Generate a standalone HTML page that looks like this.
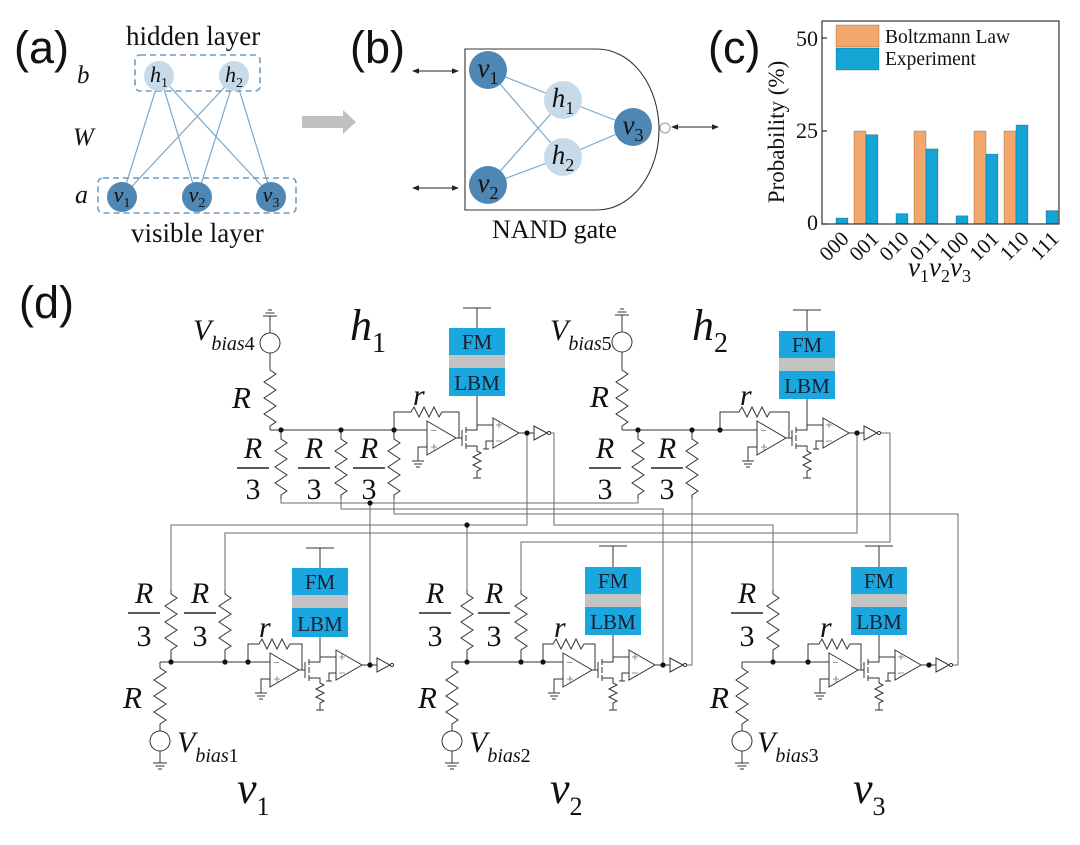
<!DOCTYPE html>
<html><head><meta charset="utf-8"><style>
html,body{margin:0;padding:0;background:#fff}
svg{display:block}
text{font-family:"Liberation Serif",serif;fill:#111}
.it{font-style:italic}
.up{font-style:normal}
.lbl{font-family:"Liberation Sans",sans-serif;font-size:45px}
</style></head><body>
<svg width="1080" height="845" viewBox="0 0 1080 845" xmlns="http://www.w3.org/2000/svg">
<defs>
<path id="zz" d="M0,0 v4 l6,4 l-12,8 l12,8 l-12,8 l12,8 l-12,8 l12,8 l-6,4 v4" fill="none"/>
<path id="zh" d="M0,0 h3 l3,-5 l5,10 l5,-10 l5,10 l5,-10 l5,10 l3,-5 h3" fill="none"/>
<path id="zs" d="M0,0 v3 l4,2 l-8,4 l8,4 l-8,4 l8,4 l-4,2 v3" fill="none"/>
<g id="chain" fill="none" stroke="#333" stroke-width="1">
 <path d="M0,-9 L29,8 L0,25 Z" fill="#fff"/>
 <path d="M4,0.5 h5 M4,17 h6 M7,14 v6" stroke="#777" stroke-width="0.8"/>
 <path d="M0,17 h-9 v14 M-15,31 h12 M-13,34 h8 M-11,37 h4"/>
 <path d="M29,8 h6 M35,0 v16 M39,-3 v6 M39,5 v6 M39,13 v6 M39,0 h11 v-5 h16 M39,16 h11 v2"/>
 <use href="#zs" x="50" y="18"/>
 <path d="M50,44 v4 M46,48 h8"/>
 <path d="M66,-12 L92,3 L66,18 Z" fill="#fff"/>
 <path d="M69,-5 h6 M72,-8 v6 M69,11 h6" stroke="#777" stroke-width="0.8"/>
 <path d="M66,11 h-7 v8 M56,19 h6"/>
 <path d="M92,3 h15"/>
 <circle cx="100" cy="3" r="2.6" fill="#111" stroke="none"/>
 <path d="M107,-4 L120,3 L107,10 Z" fill="#fff"/>
 <circle cx="122" cy="3" r="1.6" fill="#fff"/>
</g>
</defs>

<!-- ============ (a) ============ -->
<text class="lbl" x="14" y="63">(a)</text>
<text x="126" y="45" font-size="27">hidden layer</text>
<text x="77" y="83" font-size="25" class="it">b</text>
<text x="73" y="145" font-size="25" class="it">W</text>
<text x="75" y="203" font-size="26" class="it">a</text>
<text x="131" y="242" font-size="27">visible layer</text>
<g stroke="#7ba8c8" stroke-width="1.2">
 <path d="M160,76 L122,197 M160,76 L197,197 M160,76 L272,197 M235,76 L122,197 M235,76 L197,197 M235,76 L272,197"/>
</g>
<rect x="135" y="55" width="125" height="36" rx="5" fill="none" stroke="#6c9cc2" stroke-width="1.6" stroke-dasharray="6,4"/>
<rect x="98" y="178" width="198" height="35" rx="5" fill="none" stroke="#6c9cc2" stroke-width="1.6" stroke-dasharray="6,4"/>
<circle cx="159" cy="76" r="15" fill="#c6dae9"/>
<circle cx="234" cy="76" r="15" fill="#c6dae9"/>
<circle cx="122" cy="197" r="15" fill="#4f87b4"/>
<circle cx="197" cy="197" r="15" fill="#4f87b4"/>
<circle cx="271" cy="197" r="15" fill="#4f87b4"/>
<g font-size="22" text-anchor="middle" class="it">
 <text x="159" y="82">h<tspan class="up" font-size="14" dy="5">1</tspan></text>
 <text x="234" y="82">h<tspan class="up" font-size="14" dy="5">2</tspan></text>
 <text x="122" y="202">v<tspan class="up" font-size="14" dy="5">1</tspan></text>
 <text x="197" y="202">v<tspan class="up" font-size="14" dy="5">2</tspan></text>
 <text x="271" y="202">v<tspan class="up" font-size="14" dy="5">3</tspan></text>
</g>
<polygon points="302,116 343,116 343,110 356,122 343,134 343,128 302,128" fill="#c0c0c0"/>

<!-- ============ (b) ============ -->
<text class="lbl" x="350" y="63">(b)</text>
<path d="M465,49 H597 A62,80.5 0 0 1 597,210 H465 Z" fill="#fff" stroke="#333" stroke-width="1.1"/>
<g stroke="#7ba8c8" stroke-width="1.2">
 <path d="M488,70 L563,100 M488,70 L563,157 M488,185 L563,100 M488,185 L563,157 M563,100 L633,127 M563,157 L633,127"/>
</g>
<circle cx="488" cy="70" r="19" fill="#4f87b4"/>
<circle cx="488" cy="185" r="19" fill="#4f87b4"/>
<circle cx="563" cy="100" r="19" fill="#c6dae9"/>
<circle cx="563" cy="157" r="19" fill="#c6dae9"/>
<circle cx="633" cy="127" r="19" fill="#4f87b4"/>
<g font-size="27" text-anchor="middle" class="it">
 <text x="488" y="77">v<tspan class="up" font-size="18" dy="7">1</tspan></text>
 <text x="488" y="192">v<tspan class="up" font-size="18" dy="7">2</tspan></text>
 <text x="563" y="107">h<tspan class="up" font-size="18" dy="7">1</tspan></text>
 <text x="563" y="164">h<tspan class="up" font-size="18" dy="7">2</tspan></text>
 <text x="633" y="134">v<tspan class="up" font-size="18" dy="7">3</tspan></text>
</g>
<circle cx="665" cy="128" r="5" fill="#fff" stroke="#999" stroke-width="1"/>
<g stroke="#222" stroke-width="1">
 <path d="M417,71 H454 M417,188 H454 M676,127 H714"/>
</g>
<g fill="#222">
 <polygon points="412,71 419,68.3 419,73.7"/><polygon points="459,71 452,68.3 452,73.7"/>
 <polygon points="412,188 419,185.3 419,190.7"/><polygon points="459,188 452,185.3 452,190.7"/>
 <polygon points="671,127 678,124.3 678,129.7"/><polygon points="719,127 712,124.3 712,129.7"/>
</g>
<text x="492" y="238" font-size="26">NAND gate</text>

<!-- ============ (c) ============ -->
<text class="lbl" x="708" y="63">(c)</text>
<g stroke="rgba(0,0,0,0.35)" stroke-width="0.6">
 <rect x="854" y="131" width="12" height="93" fill="#f2a76c"/>
 <rect x="914" y="131" width="12" height="93" fill="#f2a76c"/>
 <rect x="974" y="131" width="12" height="93" fill="#f2a76c"/>
 <rect x="1004" y="131" width="12" height="93" fill="#f2a76c"/>
 <rect x="836" y="218" width="12" height="6" fill="#12a5d6"/>
 <rect x="866" y="134.7" width="12" height="89.3" fill="#12a5d6"/>
 <rect x="896" y="213.6" width="12" height="10.4" fill="#12a5d6"/>
 <rect x="926" y="148.9" width="12" height="75.1" fill="#12a5d6"/>
 <rect x="956" y="215.8" width="12" height="8.2" fill="#12a5d6"/>
 <rect x="986" y="154.1" width="12" height="69.9" fill="#12a5d6"/>
 <rect x="1016" y="125" width="12" height="99" fill="#12a5d6"/>
 <rect x="1046" y="210.6" width="12" height="13.4" fill="#12a5d6"/>
 <rect x="836" y="25" width="43" height="22" fill="#f2a76c"/>
 <rect x="836" y="48" width="43" height="22" fill="#12a5d6"/>
</g>
<rect x="822" y="21" width="237" height="203" fill="none" stroke="#333" stroke-width="1.2"/>
<path d="M822,38 h5 M822,131 h5 M822,224 h5" stroke="#333" stroke-width="1.2"/>
<text x="885" y="43" font-size="19.5">Boltzmann Law</text>
<text x="885" y="65" font-size="19.5">Experiment</text>
<g font-size="22" text-anchor="end">
 <text x="818" y="46">50</text>
 <text x="818" y="138">25</text>
 <text x="818" y="230">0</text>
</g>
<text transform="translate(784,132) rotate(-90)" font-size="23" text-anchor="middle">Probability (%)</text>
<g font-size="21" text-anchor="end">
 <text transform="translate(850,240) rotate(-45)">000</text>
 <text transform="translate(880,240) rotate(-45)">001</text>
 <text transform="translate(910,240) rotate(-45)">010</text>
 <text transform="translate(940,240) rotate(-45)">011</text>
 <text transform="translate(970,240) rotate(-45)">100</text>
 <text transform="translate(1000,240) rotate(-45)">101</text>
 <text transform="translate(1030,240) rotate(-45)">110</text>
 <text transform="translate(1060,240) rotate(-45)">111</text>
</g>
<text x="908" y="276" font-size="27" class="it">v<tspan class="up" font-size="18" dy="6">1</tspan><tspan dy="-6">v</tspan><tspan class="up" font-size="18" dy="6">2</tspan><tspan dy="-6">v</tspan><tspan class="up" font-size="18" dy="6">3</tspan></text>

<!-- ============ (d) ============ -->
<text class="lbl" x="19" y="318">(d)</text>

<!-- interconnect wires -->
<g fill="none" stroke="#6a6a6a" stroke-width="1">
 <path d="M281,499 V503 H638 V499"/>
 <path d="M370,665 V503"/>
 <path d="M341,499 V509 H663 V665"/>
 <path d="M394,499 V514 H958 V665 H953"/>
 <path d="M527,433 V525 H171 V590"/>
 <path d="M467,525 V590"/>
 <path d="M551,433 H554 V525 H773 V590"/>
 <path d="M857,433 V533 H225 V590"/>
 <path d="M881,433 H890 V542 H521 V590"/>
 <path d="M692,499 V665 H687"/>
</g>
<g fill="#111">
 <circle cx="370" cy="503" r="2.6"/>
 <circle cx="467" cy="525" r="2.6"/>
</g>

<!-- component lines -->
<g fill="none" stroke="#333" stroke-width="1">
 <!-- h1 -->
 <circle cx="270" cy="343" r="10" fill="#fff"/>
 <path d="M270,333 V316 M263,316 h14 M265.5,313 h9 M268,310 h4"/>
 <path d="M270,353 V366"/><use href="#zz" x="270" y="366"/>
 <path d="M270,430 H427"/>
 <path d="M281,430 V435 M341,430 V435 M394,430 V435"/>
 <use href="#zz" x="281" y="435"/><use href="#zz" x="341" y="435"/><use href="#zz" x="394" y="435"/>
 <path d="M394,430 V412 H408 M445,412 H459 V438"/><use href="#zh" x="408" y="412"/>
 <use href="#chain" x="427" y="430"/>
 <path d="M463,308 H491 M477,308 V328 M477,396 V425"/>
 <!-- h2 -->
 <circle cx="622" cy="342" r="10" fill="#fff"/>
 <path d="M622,332 V315 M615,315 h14 M617.5,312 h9 M620,309 h4"/>
 <path d="M622,352 V366"/><use href="#zz" x="622" y="366"/>
 <path d="M622,430 H757"/>
 <path d="M638,430 V435 M692,430 V435"/>
 <use href="#zz" x="638" y="435"/><use href="#zz" x="692" y="435"/>
 <path d="M720,430 V412 H736 M773,412 H789 V438"/><use href="#zh" x="736" y="412"/>
 <use href="#chain" x="757" y="430"/>
 <path d="M793,310 H821 M807,310 V331 M807,399 V425"/>
 <!-- v1 -->
 <use href="#zz" x="171" y="590"/><use href="#zz" x="225" y="590"/>
 <path d="M171,654 V662 M225,654 V662 M160,662 H270 M160,662 V664 M160,728 V731"/>
 <use href="#zz" x="160" y="664"/>
 <circle cx="160" cy="741" r="10" fill="#fff"/>
 <path d="M160,751 V763 M153,763 h14 M155.5,766 h9 M158,769 h4"/>
 <path d="M248,662 V644 H256 M293,644 H302 V670"/><use href="#zh" x="256" y="644"/>
 <use href="#chain" x="270" y="662"/>
 <path d="M306,548 H334 M320,548 V568 M320,637 V657"/>
 <!-- v2 -->
 <use href="#zz" x="467" y="590"/><use href="#zz" x="521" y="590"/>
 <path d="M467,654 V662 M521,654 V662 M452,662 H563 M452,662 V664 M452,728 V731"/>
 <use href="#zz" x="452" y="664"/>
 <circle cx="452" cy="741" r="10" fill="#fff"/>
 <path d="M452,751 V763 M445,763 h14 M447.5,766 h9 M450,769 h4"/>
 <path d="M543,662 V644 H550 M587,644 H595 V670"/><use href="#zh" x="550" y="644"/>
 <use href="#chain" x="563" y="662"/>
 <path d="M599,546 H627 M613,546 V567 M613,635 V657"/>
 <!-- v3 -->
 <use href="#zz" x="773" y="590"/>
 <path d="M773,654 V662 M742,662 H829 M742,662 V664 M742,728 V731"/>
 <use href="#zz" x="742" y="664"/>
 <circle cx="742" cy="741" r="10" fill="#fff"/>
 <path d="M742,751 V763 M735,763 h14 M737.5,766 h9 M740,769 h4"/>
 <path d="M808,662 V644 H816 M853,644 H861 V670"/><use href="#zh" x="816" y="644"/>
 <use href="#chain" x="829" y="662"/>
 <path d="M865,546 H893 M879,546 V567 M879,635 V657"/>
</g>
<!-- node dots -->
<g fill="#111">
 <circle cx="281" cy="430" r="2.6"/><circle cx="341" cy="430" r="2.6"/><circle cx="394" cy="430" r="2.6"/>
 <circle cx="638" cy="430" r="2.6"/><circle cx="692" cy="430" r="2.6"/><circle cx="720" cy="430" r="2.6"/>
 <circle cx="171" cy="662" r="2.6"/><circle cx="225" cy="662" r="2.6"/><circle cx="248" cy="662" r="2.6"/>
 <circle cx="467" cy="662" r="2.6"/><circle cx="521" cy="662" r="2.6"/><circle cx="543" cy="662" r="2.6"/>
 <circle cx="773" cy="662" r="2.6"/><circle cx="808" cy="662" r="2.6"/>
</g>

<!-- FM/LBM stacks -->
<g>
 <rect x="449" y="328" width="56" height="27" fill="#1aa6df"/><rect x="449" y="355" width="56" height="13" fill="#c3c3c3"/><rect x="449" y="368" width="56" height="28" fill="#1aa6df"/>
 <rect x="779" y="331" width="56" height="27" fill="#1aa6df"/><rect x="779" y="358" width="56" height="13" fill="#c3c3c3"/><rect x="779" y="371" width="56" height="28" fill="#1aa6df"/>
 <rect x="292" y="568" width="56" height="27" fill="#1aa6df"/><rect x="292" y="595" width="56" height="13" fill="#c3c3c3"/><rect x="292" y="608" width="56" height="29" fill="#1aa6df"/>
 <rect x="585" y="567" width="56" height="27" fill="#1aa6df"/><rect x="585" y="594" width="56" height="13" fill="#c3c3c3"/><rect x="585" y="607" width="56" height="28" fill="#1aa6df"/>
 <rect x="851" y="567" width="56" height="27" fill="#1aa6df"/><rect x="851" y="594" width="56" height="13" fill="#c3c3c3"/><rect x="851" y="607" width="56" height="28" fill="#1aa6df"/>
</g>
<g font-size="21" text-anchor="middle">
 <text x="477" y="349" style="fill:#1a2030">FM</text><text x="477" y="390" style="fill:#1a2030">LBM</text>
 <text x="807" y="352" style="fill:#1a2030">FM</text><text x="807" y="393" style="fill:#1a2030">LBM</text>
 <text x="320" y="589" style="fill:#1a2030">FM</text><text x="320" y="631" style="fill:#1a2030">LBM</text>
 <text x="613" y="588" style="fill:#1a2030">FM</text><text x="613" y="629" style="fill:#1a2030">LBM</text>
 <text x="879" y="588" style="fill:#1a2030">FM</text><text x="879" y="629" style="fill:#1a2030">LBM</text>
</g>

<!-- circuit labels -->
<g class="it">
 <text x="193" y="340" font-size="30">V<tspan font-size="20" dy="10">bias</tspan><tspan class="up" font-size="20">4</tspan></text>
 <text x="550" y="340" font-size="30">V<tspan font-size="20" dy="10">bias</tspan><tspan class="up" font-size="20">5</tspan></text>
 <text x="177" y="752" font-size="30">V<tspan font-size="20" dy="10">bias</tspan><tspan class="up" font-size="20">1</tspan></text>
 <text x="469" y="752" font-size="30">V<tspan font-size="20" dy="10">bias</tspan><tspan class="up" font-size="20">2</tspan></text>
 <text x="757" y="752" font-size="30">V<tspan font-size="20" dy="10">bias</tspan><tspan class="up" font-size="20">3</tspan></text>

 <text x="350" y="340" font-size="44">h<tspan class="up" font-size="28" dy="12">1</tspan></text>
 <text x="692" y="340" font-size="44">h<tspan class="up" font-size="28" dy="12">2</tspan></text>
 <text x="237" y="803" font-size="44">v<tspan class="up" font-size="26" dy="12">1</tspan></text>
 <text x="550" y="803" font-size="44">v<tspan class="up" font-size="26" dy="12">2</tspan></text>
 <text x="853" y="803" font-size="44">v<tspan class="up" font-size="26" dy="12">3</tspan></text>

 <text x="232" y="408" font-size="31">R</text>
 <text x="590" y="407" font-size="31">R</text>
 <text x="123" y="708" font-size="31">R</text>
 <text x="418" y="708" font-size="31">R</text>
 <text x="710" y="708" font-size="31">R</text>

 <text x="413" y="405" font-size="30">r</text>
 <text x="740" y="405" font-size="30">r</text>
 <text x="259" y="637" font-size="30">r</text>
 <text x="554" y="637" font-size="30">r</text>
 <text x="820" y="637" font-size="30">r</text>
</g>
<!-- fractions R/3 -->
<g font-size="30" text-anchor="middle">
 <text x="253" y="458" class="it">R</text><text x="253" y="499">3</text>
 <text x="314" y="458" class="it">R</text><text x="314" y="499">3</text>
 <text x="369" y="458" class="it">R</text><text x="369" y="499">3</text>
 <text x="605" y="458" class="it">R</text><text x="605" y="499">3</text>
 <text x="667" y="458" class="it">R</text><text x="667" y="499">3</text>
 <text x="144" y="603" class="it">R</text><text x="144" y="646">3</text>
 <text x="200" y="603" class="it">R</text><text x="200" y="646">3</text>
 <text x="435" y="603" class="it">R</text><text x="435" y="646">3</text>
 <text x="494" y="603" class="it">R</text><text x="494" y="646">3</text>
 <text x="747" y="603" class="it">R</text><text x="747" y="646">3</text>
</g>
<g stroke="#222" stroke-width="1.6">
 <path d="M237,468 h32 M298,468 h32 M353,468 h32 M589,468 h32 M651,468 h32"/>
 <path d="M128,613 h32 M184,613 h32 M419,613 h32 M478,613 h32 M731,613 h32"/>
</g>
</svg>
</body></html>
